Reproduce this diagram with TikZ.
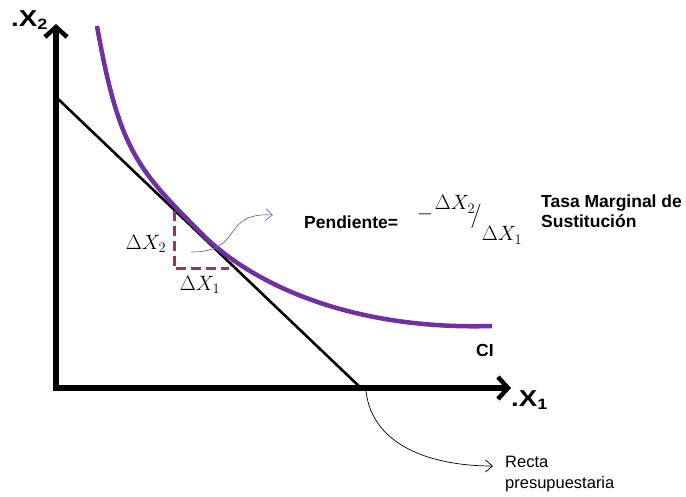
\documentclass[tikz,border=0pt]{standalone}
\usepackage{fontspec}
\setmainfont{Liberation Sans}
\usetikzlibrary{arrows.meta}
\definecolor{cipurple}{RGB}{112,48,160}
\definecolor{lightpurple}{RGB}{128,100,162}
\definecolor{maroon}{RGB}{153,51,102}
\tikzset{
  axis/.style={line width=5.5pt,-{Straight Barb[length=10pt,width=22pt,line width=4.5pt]}},
  budget/.style={line width=2.6pt,black},
  icurve/.style={line width=4.5pt,cipurple},
  dashbox/.style={line width=3pt,maroon,dash pattern=on 10pt off 5pt},
  callout/.style={-{Straight Barb[length=7pt,width=12pt]},line width=0.7pt},
  lbl/.style={inner sep=0pt,font=\fontsize{17.5}{20}\selectfont\bfseries},
  axlbl/.style={inner sep=0pt,xscale=1.2,font=\fontsize{23}{25}\selectfont\bfseries},
  mlbl/.style={inner sep=0pt,font=\fontsize{19.5}{21}\selectfont},
  txt/.style={inner sep=0pt,align=left,font=\fontsize{16.5}{21}\selectfont}
}
\begin{document}
\begin{tikzpicture}[x=1pt,y=-1pt]
\useasboundingbox (0,0) rectangle (686,497);
% axes
\coordinate (O) at (56,388);
\coordinate (Ytop) at (56,24);
\coordinate (Xend) at (511,388);
\draw[axis] (56,391) -- (Ytop);
\draw[axis] (53,388) -- (Xend);
\node[axlbl,anchor=west] (x2) at (11,20) {.X\textsubscript{\fontsize{15}{15}\selectfont 2}};
\node[axlbl,anchor=west] (x1) at (511,400) {.X\textsubscript{\fontsize{15}{15}\selectfont 1}};
% budget line
\coordinate (B1) at (56,97);
\coordinate (B2) at (363,390);
\draw[budget] (B1) -- (B2);
% indifference curve
\coordinate (C0) at (97,26);
\coordinate (CT) at (205,237);
\coordinate (C1) at (492,326);
\draw[icurve] (C0) .. controls (119.4,152) and (138,170) .. (CT)
              .. controls (255,284.9) and (352,330.2) .. (C1);
\node[lbl,anchor=west] (ci) at (476,350) {CI};
% dashed triangle
\coordinate (D1) at (174,211);
\coordinate (D2) at (174,269);
\coordinate (D3) at (229,269);
\draw[dashbox] (D1) -- (D2) -- (D3);
\node[mlbl] (dx2) at (146,244) {$\Delta X_2$};
\node[mlbl] (dx1) at (200,285) {$\Delta X_1$};
% slope callout
\coordinate (s0) at (191,252);
\coordinate (s1) at (273,215);
\draw[callout,lightpurple] (s0) .. controls (245,252) and (220,212) .. (s1);
\node[lbl,anchor=west] (pend) at (304,222) {Pendiente=};
\node[mlbl,anchor=base] (fminus) at (425,220) {$-$};
\node[mlbl,anchor=base] (fnum) at (455,210) {$\Delta X_2$};
\node[mlbl,font=\fontsize{25}{25}\selectfont] (fslash) at (476,216) {$/$};
\node[mlbl,anchor=base] (fden) at (502,241) {$\Delta X_1$};
\node[lbl,anchor=north west,align=left] (tms) at (541,195) {Tasa Marginal de\\Sustitución};
% budget callout
\coordinate (r0) at (366,391);
\coordinate (r1) at (493,466);
\draw[callout] (r0) .. controls (372,445) and (430,466) .. (r1);
\node[txt,anchor=north west] (recta) at (505,456) {Recta\\presupuestaria};
\end{tikzpicture}
\end{document}
